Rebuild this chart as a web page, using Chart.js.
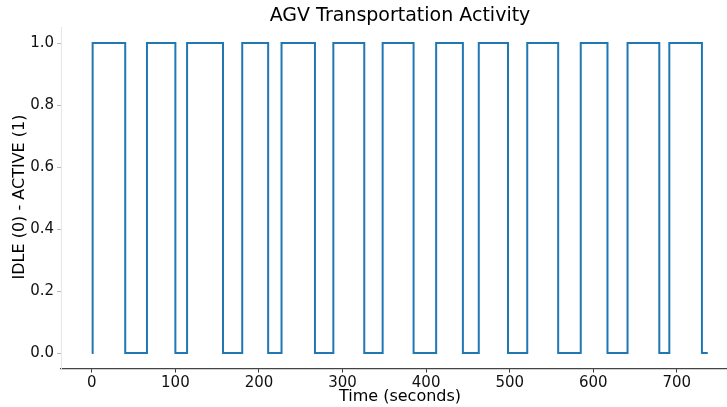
<!DOCTYPE html>
<html>
<head>
<meta charset="utf-8">
<script src="https://cdn.jsdelivr.net/npm/chart.js@4/dist/chart.umd.min.js"></script>
<style>
  html, body { margin: 0; padding: 0; background: #fff; }
  #wrap { width: 727px; height: 407px; position: relative; }
</style>
</head>
<body>
<div id="wrap"><canvas id="c" width="727" height="407"></canvas></div>
<script>
// Transition times (seconds) and the state that holds from each time onward
const times  = [0, 1, 40, 66, 100, 114, 157, 180, 211, 227, 267, 289, 326, 348, 385, 412, 444, 463, 498, 521, 558, 585, 617, 641, 679, 691, 730, 737];
const states = [0, 1, 0, 1, 0, 1, 0, 1, 0, 1, 0, 1, 0, 1, 0, 1, 0, 1, 0, 1, 0, 1, 0, 1, 0, 1, 0, 0];
const xTicks = [0, 100, 200, 300, 400, 500, 600, 700];
const yTicks = [0, 0.2, 0.4, 0.6, 0.8, 1.0];
const titleText = 'AGV Transportation Activity';
const xLabel = 'Time (seconds)';
const yLabel = 'IDLE (0) - ACTIVE (1)';

const FONT = "'DejaVu Sans', sans-serif";

const textPlugin = {
  id: 'texts',
  afterDraw(chart) {
    const ctx = chart.ctx;
    ctx.save();
    ctx.fillStyle = '#000';
    ctx.textAlign = 'center';
    ctx.textBaseline = 'middle';
    ctx.font = '19px ' + FONT;
    ctx.fillText(titleText, 400, 16);
    ctx.font = '16px ' + FONT;
    ctx.fillText(xLabel, 400, 397);
    ctx.translate(20, 197);
    ctx.rotate(-Math.PI / 2);
    ctx.fillText(yLabel, 0, 0);
    ctx.restore();
  }
};

new Chart(document.getElementById('c'), {
  type: 'line',
  data: {
    datasets: [{
      data: times.map((t, i) => ({ x: t, y: states[i] })),
      borderColor: '#1f77b4',
      borderWidth: 2,
      pointRadius: 0,
      stepped: 'before',
      fill: false
    }]
  },
  options: {
    responsive: false,
    animation: false,
    devicePixelRatio: 1,
    layout: { padding: { top: 27.5, left: 0, right: 0, bottom: 0 } },
    plugins: { legend: { display: false }, title: { display: false }, tooltip: { enabled: false } },
    scales: {
      x: {
        type: 'linear',
        min: -36.85,
        max: 760,
        afterBuildTicks: s => { s.ticks = xTicks.map(v => ({ value: v })); },
        afterFit: s => { s.height = 38.5; },
        ticks: { color: '#111', font: { family: FONT, size: 15 }, padding: 2, maxRotation: 0, autoSkip: false },
        grid: { drawOnChartArea: false, drawTicks: true, tickLength: 4, color: '#333', lineWidth: 1 },
        border: { display: true, color: '#444', width: 1.2 }
      },
      y: {
        type: 'linear',
        min: -0.05,
        max: 1.05,
        afterBuildTicks: s => { s.ticks = yTicks.map(v => ({ value: v })); },
        afterFit: s => { s.width = 61; },
        ticks: { color: '#111', font: { family: FONT, size: 15 }, padding: 3, callback: v => Number(v).toFixed(1) },
        grid: { drawOnChartArea: false, drawTicks: true, tickLength: 4, color: '#bbb', lineWidth: 1 },
        border: { display: true, color: '#e6e6e6', width: 1 }
      }
    }
  },
  plugins: [textPlugin]
});
</script>
</body>
</html>
